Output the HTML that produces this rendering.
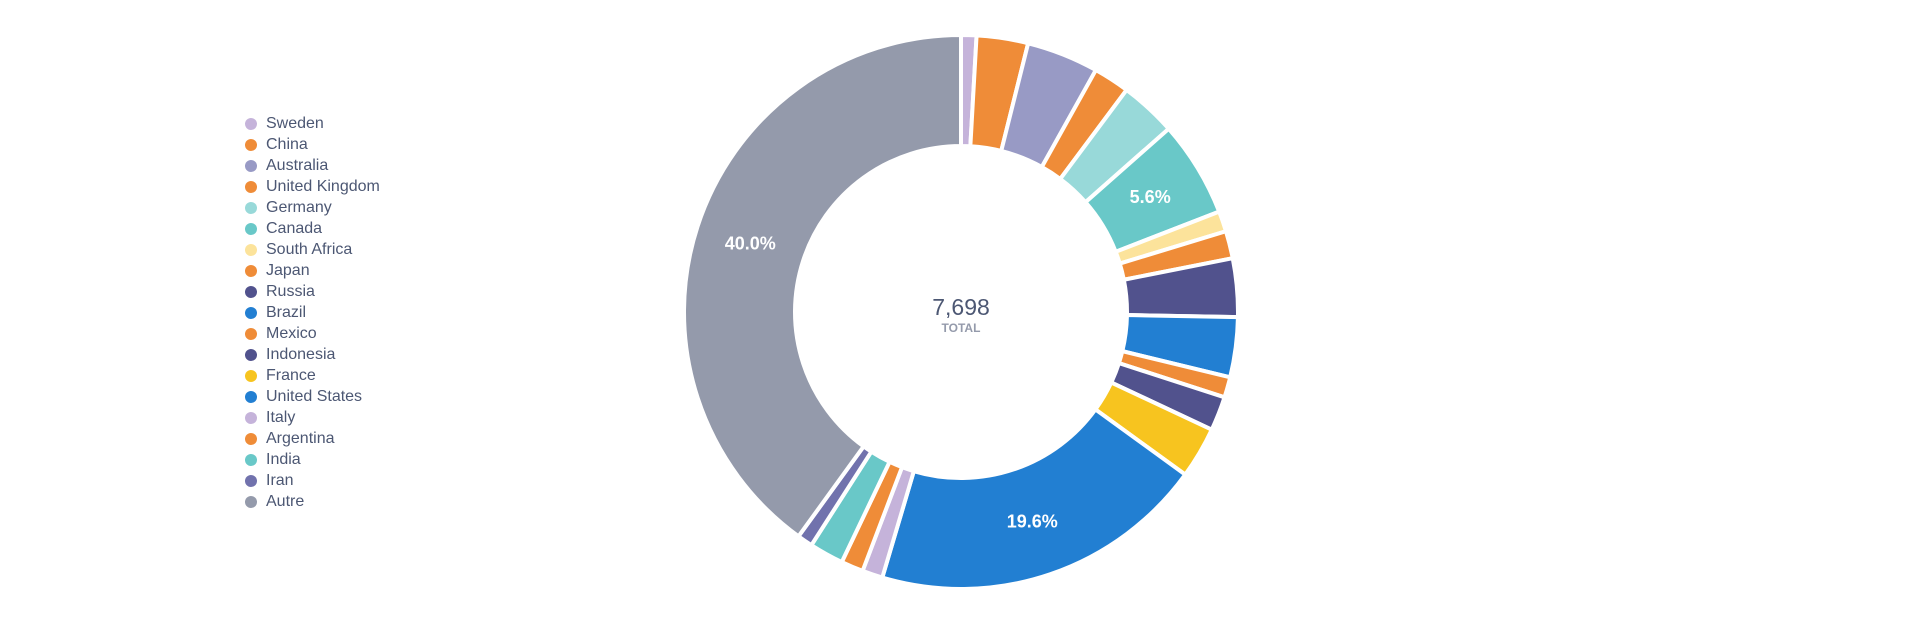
<!DOCTYPE html>
<html><head><meta charset="utf-8"><style>
html,body{margin:0;padding:0;background:#fff;width:1920px;height:637px;overflow:hidden;font-family:"Liberation Sans",sans-serif}
#legend{position:absolute;left:245px;top:113px}
.li{height:21px;line-height:21px;font-size:16px;color:#4c5773;display:flex;align-items:center}
.dot{width:12px;height:12px;border-radius:50%;margin-right:9px;flex:none}
svg{position:absolute;left:0;top:0}
</style></head><body>
<div id="legend"></div>
<svg id="chart" width="1920" height="637"></svg>
<script>
const categories=["Sweden","China","Australia","United Kingdom","Germany","Canada","South Africa","Japan","Russia","Brazil","Mexico","Indonesia","France","United States","Italy","Argentina","India","Iran","Autre"];
const values=[69,231,323,162,254,431,92,123,262,269,92,154,231,1509,92,100,154,69,3081];
const colors=["#c5b3da","#ef8c38","#989ac5","#ef8c38","#98d9d9","#69c8c8","#fce39b","#ef8c38","#51528d","#227fd2","#ef8c38","#51528d","#f7c41f","#227fd2","#c5b3da","#ef8c38","#69c8c8","#7172ad","#949aab"];
const totalLabel="TOTAL";
const NS="http://www.w3.org/2000/svg";
const cx=961,cy=312,R=277,r=166;
const svg=document.getElementById('chart');
const total=values.reduce((a,b)=>a+b,0);
function pt(rad,a){return [cx+rad*Math.sin(a),cy-rad*Math.cos(a)];}
let acc=0;
values.forEach((v,i)=>{
  const a0=acc/total*2*Math.PI; acc+=v; const a1=acc/total*2*Math.PI;
  const large=(a1-a0)>Math.PI?1:0;
  const p0=pt(R,a0),p1=pt(R,a1),q1=pt(r,a1),q0=pt(r,a0);
  const p=document.createElementNS(NS,'path');
  p.setAttribute('d',`M${p0[0]},${p0[1]}A${R},${R} 0 ${large} 1 ${p1[0]},${p1[1]}L${q1[0]},${q1[1]}A${r},${r} 0 ${large} 0 ${q0[0]},${q0[1]}Z`);
  p.setAttribute('fill',colors[i]);p.setAttribute('stroke','#fff');p.setAttribute('stroke-width','4');
  
  
  svg.appendChild(p);
  const pct=v/total*100;
  if(pct>=5){
    const m=pt((R+r)/2,(a0+a1)/2);
    const t=document.createElementNS(NS,'text');
    t.setAttribute('x',m[0]);t.setAttribute('y',m[1]+6);t.setAttribute('text-anchor','middle');
    t.setAttribute('fill','#fff');t.setAttribute('font-size','18');t.setAttribute('font-weight','bold');
    t.setAttribute('font-family','Liberation Sans, sans-serif');
    t.textContent=pct.toFixed(1)+'%';
    
    
    svg.appendChild(t);
  }
  const li=document.createElement('div');li.className='li';
  
  
  li.innerHTML=`<span class="dot" style="background:${colors[i]}"></span>${categories[i]}`;
  document.getElementById('legend').appendChild(li);
});
const tv=document.createElementNS(NS,'text');
tv.setAttribute('x',cx);tv.setAttribute('y',cy+3);tv.setAttribute('text-anchor','middle');
tv.setAttribute('fill','#4c5773');tv.setAttribute('font-size','23');tv.setAttribute('font-family','Liberation Sans, sans-serif');
tv.textContent=total.toLocaleString('en-US');


svg.appendChild(tv);
const tl=document.createElementNS(NS,'text');
tl.setAttribute('x',cx);tl.setAttribute('y',cy+20);tl.setAttribute('text-anchor','middle');
tl.setAttribute('fill','#949aab');tl.setAttribute('font-size','12');tl.setAttribute('font-weight','bold');tl.setAttribute('font-family','Liberation Sans, sans-serif');
tl.textContent=totalLabel;


svg.appendChild(tl);
</script>
</body></html>
